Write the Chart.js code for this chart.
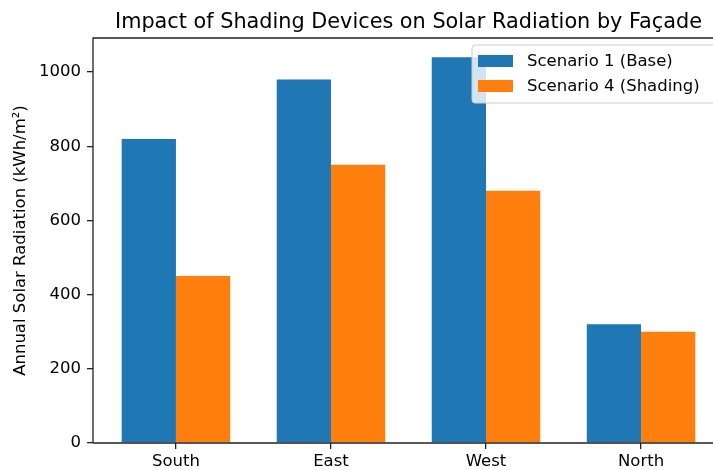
<!DOCTYPE html>
<html>
<head>
<meta charset="utf-8">
<script src="https://cdn.jsdelivr.net/npm/chart.js@4"></script>
<style>
html,body{margin:0;padding:0;overflow:hidden;background:#fff;width:713px;height:470px;}
canvas{display:block;}
</style>
</head>
<body>
<canvas id="c" width="760" height="470"></canvas>
<script>
const categories = ["South", "East", "West", "North"];
const scenario1Base = [820, 980, 1040, 320];
const scenario4Shading = [450, 750, 680, 300];
const yTicks = [0, 200, 400, 600, 800, 1000];
const seriesLabels = ["Scenario 1 (Base)", "Scenario 4 (Shading)"];
const chartTitle = "Impact of Shading Devices on Solar Radiation by Façade";
const yTitle = "Annual Solar Radiation (kWh/m²)";

const FONT = "'DejaVu Sans', sans-serif";
const BLUE = "#1f77b4", ORANGE = "#ff7f0e";

const decor = {
  id: "decor",
  afterDraw(chart) {
    const ctx = chart.ctx, a = chart.chartArea;
    ctx.save();
    // frame (spines)
    ctx.strokeStyle = "#222";
    ctx.lineWidth = 1.3;
    ctx.beginPath();
    ctx.moveTo(a.left, a.bottom); ctx.lineTo(a.left, a.top); ctx.lineTo(a.right, a.top); ctx.lineTo(a.right, a.bottom); ctx.lineTo(a.left, a.bottom);
    ctx.stroke();
    // title
    ctx.fillStyle = "#000";
    ctx.font = "20.8px " + FONT;
    ctx.textAlign = "center";
    ctx.textBaseline = "alphabetic";
    ctx.fillText(chartTitle, (a.left + a.right) / 2, a.top - 10);
    // legend
    const lx = a.right - 252, ly = a.top + 7, lw = 260, lh = 58, r = 3;
    ctx.beginPath();
    ctx.moveTo(lx + r, ly); ctx.lineTo(lx + lw - r, ly); ctx.arcTo(lx + lw, ly, lx + lw, ly + r, r);
    ctx.lineTo(lx + lw, ly + lh - r); ctx.arcTo(lx + lw, ly + lh, lx + lw - r, ly + lh, r);
    ctx.lineTo(lx + r, ly + lh); ctx.arcTo(lx, ly + lh, lx, ly + lh - r, r);
    ctx.lineTo(lx, ly + r); ctx.arcTo(lx, ly, lx + r, ly, r);
    ctx.closePath();
    ctx.fillStyle = "rgba(255,255,255,0.8)";
    ctx.fill();
    ctx.strokeStyle = "#cccccc";
    ctx.lineWidth = 1;
    ctx.stroke();
    chart.data.datasets.forEach((ds, i) => {
      const cy = ly + 16 + i * 25;
      ctx.fillStyle = ds.backgroundColor;
      ctx.fillRect(lx + 6, cy - 6, 35, 12);
      ctx.fillStyle = "#000";
      ctx.font = "16.5px " + FONT;
      ctx.textAlign = "left";
      ctx.textBaseline = "middle";
      ctx.fillText(ds.label, lx + 55, cy + 1);
    });
    ctx.restore();
  }
};

new Chart(document.getElementById("c"), {
  type: "bar",
  data: {
    datasets: [
      { label: seriesLabels[0], data: scenario1Base.map((v, i) => ({ x: i, y: v })), backgroundColor: BLUE },
      { label: seriesLabels[1], data: scenario4Shading.map((v, i) => ({ x: i, y: v })), backgroundColor: ORANGE }
    ]
  },
  options: {
    responsive: false,
    animation: false,
    layout: { padding: { left: 0, top: 38, right: 36, bottom: 0 } },
    datasets: { bar: { categoryPercentage: 0.7, barPercentage: 1.0, borderWidth: 0 } },
    plugins: { legend: { display: false }, title: { display: false }, tooltip: { enabled: false } },
    scales: {
      x: {
        type: "linear",
        min: -0.535, max: 3.535,
        offset: false,
        afterBuildTicks(scale) { scale.ticks = categories.map((c, i) => ({ value: i })); },
        afterFit(scale) { scale.height = 27; },
        ticks: { callback: (v) => categories[v], color: "#000", font: { family: FONT, size: 16.5 }, padding: 3, maxRotation: 0, autoSkip: false },
        grid: { offset: false, drawOnChartArea: false, drawTicks: true, tickLength: 6, color: "#222", lineWidth: 1.3 },
        border: { display: false }
      },
      y: {
        min: 0, max: 1092,
        afterBuildTicks(scale) { scale.ticks = yTicks.map(v => ({ value: v })); },
        afterFit(scale) { scale.width = 93; },
        ticks: { callback: (v) => String(v), color: "#000", font: { family: FONT, size: 16.5 }, padding: 6 },
        grid: { drawOnChartArea: false, drawTicks: true, tickLength: 6, color: "#222", lineWidth: 1.3 },
        border: { display: false },
        title: { display: true, text: yTitle, color: "#000", font: { family: FONT, size: 16.5 }, padding: { top: 11, bottom: 0 } }
      }
    }
  },
  plugins: [decor]
});
</script>
</body>
</html>
